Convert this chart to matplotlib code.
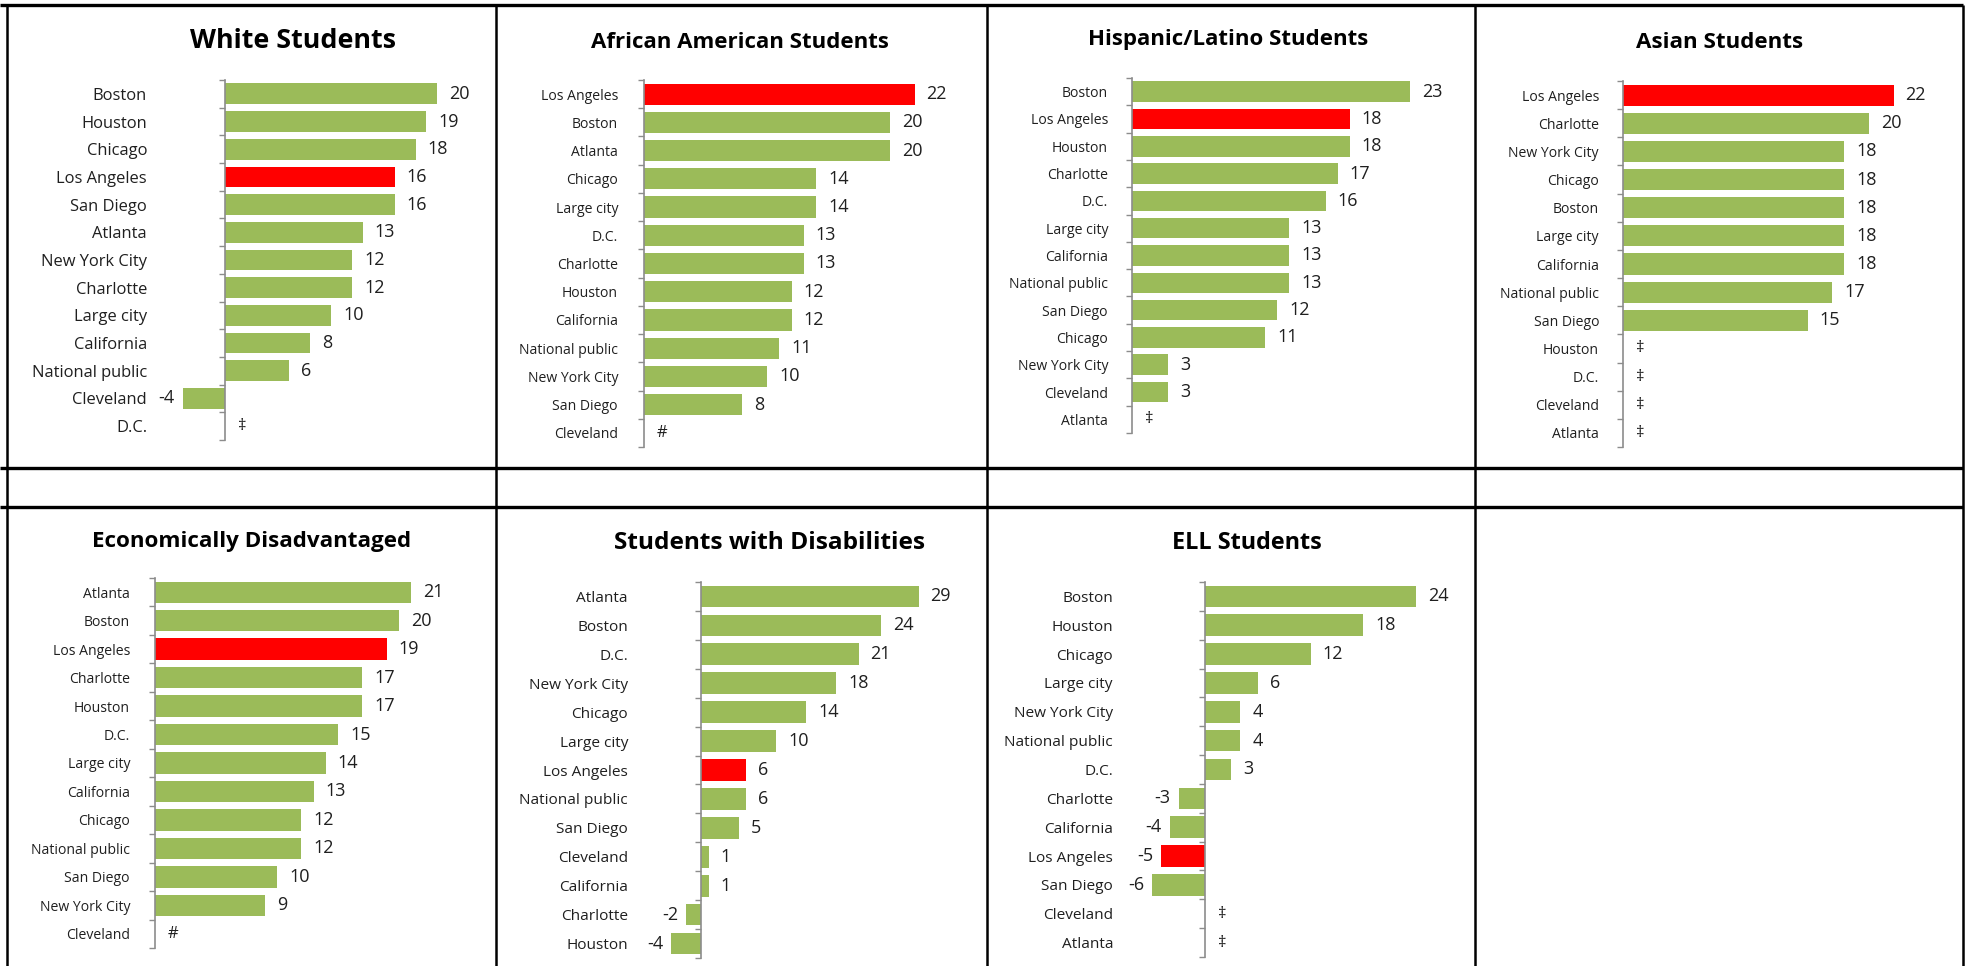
import matplotlib
matplotlib.use('Agg')
import matplotlib.pyplot as plt
from matplotlib.ticker import FixedLocator
import numpy as np

plt.rcParams['font.family'] = ['Open Sans', 'DejaVu Sans']

GREEN = '#9bbb59'
RED = '#ff0000'
TXT = '#1f1f1f'
AXC = '#8c8c8c'

# ---- data (None = not reported, shown with a symbol) ----
white_labels = ['Boston', 'Houston', 'Chicago', 'Los Angeles', 'San Diego', 'Atlanta',
                'New York City', 'Charlotte', 'Large city', 'California',
                'National public', 'Cleveland', 'D.C.']
white_values = [20, 19, 18, 16, 16, 13, 12, 12, 10, 8, 6, -4, None]

black_labels = ['Los Angeles', 'Boston', 'Atlanta', 'Chicago', 'Large city', 'D.C.',
                'Charlotte', 'Houston', 'California', 'National public',
                'New York City', 'San Diego', 'Cleveland']
black_values = [22, 20, 20, 14, 14, 13, 13, 12, 12, 11, 10, 8, None]

hisp_labels = ['Boston', 'Los Angeles', 'Houston', 'Charlotte', 'D.C.', 'Large city',
               'California', 'National public', 'San Diego', 'Chicago',
               'New York City', 'Cleveland', 'Atlanta']
hisp_values = [23, 18, 18, 17, 16, 13, 13, 13, 12, 11, 3, 3, None]

asian_labels = ['Los Angeles', 'Charlotte', 'New York City', 'Chicago', 'Boston',
                'Large city', 'California', 'National public', 'San Diego',
                'Houston', 'D.C.', 'Cleveland', 'Atlanta']
asian_values = [22, 20, 18, 18, 18, 18, 18, 17, 15, None, None, None, None]

econ_labels = ['Atlanta', 'Boston', 'Los Angeles', 'Charlotte', 'Houston', 'D.C.',
               'Large city', 'California', 'Chicago', 'National public',
               'San Diego', 'New York City', 'Cleveland']
econ_values = [21, 20, 19, 17, 17, 15, 14, 13, 12, 12, 10, 9, None]

swd_labels = ['Atlanta', 'Boston', 'D.C.', 'New York City', 'Chicago', 'Large city',
              'Los Angeles', 'National public', 'San Diego', 'Cleveland',
              'California', 'Charlotte', 'Houston']
swd_values = [29, 24, 21, 18, 14, 10, 6, 6, 5, 1, 1, -2, -4]

ell_labels = ['Boston', 'Houston', 'Chicago', 'Large city', 'New York City',
              'National public', 'D.C.', 'Charlotte', 'California', 'Los Angeles',
              'San Diego', 'Cleveland', 'Atlanta']
ell_values = [24, 18, 12, 6, 4, 4, 3, -3, -4, -5, -6, None, None]

titles = ['White Students', 'African American Students', 'Hispanic/Latino Students',
          'Asian Students', 'Economically Disadvantaged', 'Students with Disabilities',
          'ELL Students']
missing_marks = ['\u2021', '#', '\u2021', '\u2021', '#', '', '\u2021']

W, H = 1971, 966
fig = plt.figure(figsize=(W / 100, H / 100), dpi=100)

# table grid
bg = fig.add_axes([0, 0, 1, 1])
bg.set_xlim(0, W)
bg.set_ylim(H, 0)
bg.axis('off')
for yy in [5, 468, 507]:
    bg.plot([0, 1963], [yy, yy], color='black', lw=2.4, solid_capstyle='butt')
for xx in [7, 496, 987, 1475, 1963]:
    bg.plot([xx, xx], [5, H], color='black', lw=1.8, solid_capstyle='butt')

# layout: axis x, top, bottom, px per unit, label gap, title x, title y,
#         label size, title size
layout = [
    (225, 80, 440, 10.6, 78, 293, 41, 11.9, 19.4),
    (644, 80, 447, 12.3, 26, 740, 42, 10.1, 16.0),
    (1132, 78, 433, 12.1, 24, 1228, 40, 10.1, 16.0),
    (1623, 81, 447, 12.3, 24, 1720, 42, 10.1, 16.1),
    (155, 578, 948, 12.2, 25, 252, 541, 10.1, 16.1),
    (701, 582, 958, 7.5, 73, 770, 543, 11.1, 17.6),
    (1205, 582, 957, 8.8, 92, 1247, 543, 11.1, 16.8),
]

data = [(white_labels, white_values), (black_labels, black_values),
        (hisp_labels, hisp_values), (asian_labels, asian_values),
        (econ_labels, econ_values), (swd_labels, swd_values),
        (ell_labels, ell_values)]

for (labels, values), title, mark, lay in zip(data, titles, missing_marks, layout):
    ax_x, top, bottom, ppu, gap, tx, ty, lsize, tsize = lay
    xlo, xhi = -8, 32
    n = len(labels)
    left = ax_x + xlo * ppu
    width = (xhi - xlo) * ppu
    ax = fig.add_axes([left / W, 1 - bottom / H, width / W, (bottom - top) / H])
    ax.set_xlim(xlo, xhi)
    ax.set_ylim(n - 0.5, -0.5)
    ax.patch.set_visible(False)

    y = np.arange(n)
    vals = np.array([0 if v is None else v for v in values], dtype=float)
    colors = [RED if lab == 'Los Angeles' else GREEN for lab in labels]
    ax.barh(y, vals, height=0.75, color=colors)

    for yi, v in zip(y, values):
        if v is None:
            ax.annotate(mark, (0, yi), xytext=(13, 0), textcoords='offset pixels',
                        ha='left', va='center', fontsize=12, color=TXT)
        elif v >= 0:
            ax.annotate(str(v), (v, yi), xytext=(12, 0), textcoords='offset pixels',
                        ha='left', va='center', fontsize=13, color=TXT)
        else:
            ax.annotate(str(v), (v, yi), xytext=(-8, 0), textcoords='offset pixels',
                        ha='right', va='center', fontsize=13, color=TXT)

    for s in ['top', 'right', 'bottom']:
        ax.spines[s].set_visible(False)
    ax.spines['left'].set_position(('data', 0))
    ax.spines['left'].set_color(AXC)
    ax.spines['left'].set_linewidth(1.2)
    ax.set_xticks([])
    ax.set_yticks(y, labels)
    ax.yaxis.set_minor_locator(FixedLocator(np.arange(n + 1) - 0.5))
    ax.tick_params(axis='y', which='major', length=0, pad=gap * 0.72,
                   labelsize=lsize, labelcolor=TXT)
    ax.tick_params(axis='y', which='minor', length=4, width=1.0, color=AXC,
                   direction='out')

    fig.text(tx / W, 1 - ty / H, title, ha='center', va='center',
             fontsize=tsize, fontweight='bold', color='black')

fig.savefig('out.png', dpi=100)
